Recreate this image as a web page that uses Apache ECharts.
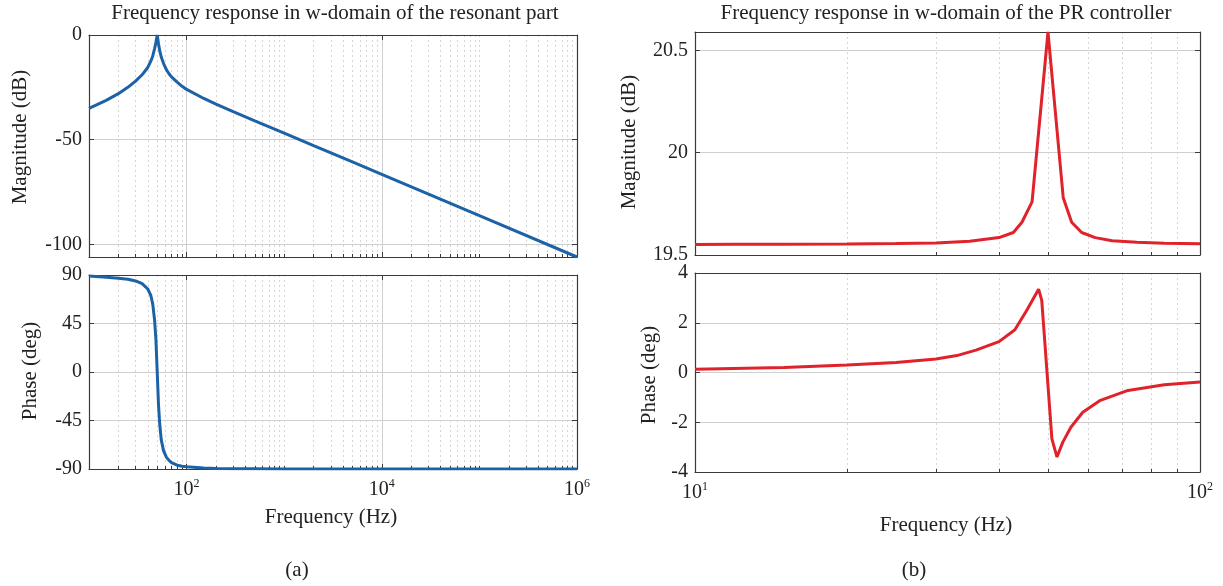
<!DOCTYPE html>
<html>
<head>
<meta charset="utf-8">
<title>Bode plots</title>
<script src="https://cdn.jsdelivr.net/npm/echarts@6/dist/echarts.min.js"></script>
<style>
  html, body { margin: 0; padding: 0; background: #fff; }
  #chart { width: 1223px; height: 586px; }
</style>
</head>
<body>
<div id="chart"></div>
<script>
// (a) resonant part
const resFreq = [10, 15, 20, 25, 30, 35, 40, 43, 45, 47, 48.5, 50, 51.5, 53, 55, 58, 62, 66, 70, 80, 90, 100, 150, 200, 300, 500, 1000, 2000, 5000, 1e4, 1e5, 1e6];
const resMag = [-35, -31.2, -28, -25, -22, -19, -15.5, -12.5, -10, -6.5, -3.5, 0, -4, -7.5, -10.5, -13.5, -16.5, -18.5, -20, -22.5, -24.5, -26, -30.3, -33, -36.6, -41, -46.8, -52.8, -60.6, -66.5, -86.3, -106];
const resPhase = [89, 88, 87, 86, 84.5, 82, 77, 71, 63, 48, 30, 0, -30, -48, -63, -73, -79, -82, -84, -86.5, -87.5, -88, -89, -89.5, -89.7, -89.8, -90, -90, -90, -90, -90, -90];

// (b) PR controller
const prMagFreq = [10, 12, 15, 20, 25, 30, 35, 40, 42.7, 44.4, 46.5, 50, 53.6, 55.7, 58.3, 62, 67, 75, 85, 100];
const prMag = [19.551, 19.552, 19.552, 19.554, 19.556, 19.559, 19.567, 19.585, 19.61, 19.66, 19.76, 20.59, 19.78, 19.66, 19.61, 19.585, 19.57, 19.562, 19.557, 19.555];
const prPhaseFreq = [10, 15, 20, 25, 30, 33, 36, 40, 43, 45.4, 47.9, 48.6, 50.9, 52.1, 53.5, 55.5, 58.6, 63.5, 72, 85, 100];
const prPhase = [0.13, 0.2, 0.3, 0.4, 0.54, 0.68, 0.9, 1.24, 1.72, 2.5, 3.35, 2.9, -2.67, -3.4, -2.8, -2.2, -1.6, -1.12, -0.72, -0.49, -0.38];

// tick labels
const resXTicks = [100, 1e4, 1e6];
const prXTicks = [10, 100];
const resMagTicks = [-100, -50, 0];
const resPhaseTicks = [-90, -45, 0, 45, 90];
const prMagTicks = [19.5, 20, 20.5];
const prPhaseTicks = [-4, -2, 0, 2, 4];

// dotted minor grid of the log axes (every 1..9 x decade that is not a labelled tick)
function minorGrid (lo, hi, major) {
    let out = [];
    for (let d = lo; d < hi; d *= 10) {
        for (let k = 1; k < 10; k++) {
            let v = d * k;
            if (v > lo && v < hi && major.indexOf(v) < 0) out.push(v);
        }
    }
    return out;
}

const serif = 'Liberation Serif';
const ink = '#222';
const frame = '#3a3a3a';
const tickFont = 20;
const textFont = 21;

function expLabel (v) {
    return '{b|10}{s|' + Math.round(Math.log10(v)) + '}';
}

function xAxes (grid, min, max, major, showLabels) {
    let minor = minorGrid(min, max, major);
    return [
        {
            type: 'log', gridIndex: grid, min: min, max: max, position: 'bottom',
            axisLine: { show: false, onZero: false },
            axisLabel: { show: false },
            axisTick: { show: true, inside: true, length: 3, customValues: minor, lineStyle: { color: frame } },
            splitLine: { show: true, lineStyle: { color: '#d6d6d6', type: [2, 3] } }
        },
        {
            type: 'log', gridIndex: grid, min: min, max: max, position: 'bottom',
            axisLine: { show: true, onZero: false, lineStyle: { color: frame, width: 1.2 } },
            axisTick: { show: true, inside: true, length: 5, customValues: major, lineStyle: { color: frame } },
            axisLabel: {
                show: showLabels,
                customValues: major,
                margin: 9,
                formatter: expLabel,
                rich: {
                    b: { fontFamily: serif, fontSize: tickFont, color: ink, lineHeight: 24 },
                    s: { fontFamily: serif, fontSize: 12, color: ink, verticalAlign: 'top', lineHeight: 14 }
                }
            },
            splitLine: { show: true, lineStyle: { color: '#cfcfcf' } }
        },
        {
            type: 'log', gridIndex: grid, min: min, max: max, position: 'top',
            axisLine: { show: true, onZero: false, lineStyle: { color: frame, width: 1.2 } },
            axisTick: { show: true, inside: true, length: 5, customValues: major, lineStyle: { color: frame } },
            axisLabel: { show: false },
            splitLine: { show: false }
        }
    ];
}

function yAxes (grid, min, max, ticks) {
    return [
        {
            type: 'value', gridIndex: grid, min: min, max: max, position: 'left',
            axisLine: { show: true, onZero: false, lineStyle: { color: frame, width: 1.2 } },
            axisTick: { show: true, inside: true, length: 5, customValues: ticks, lineStyle: { color: frame } },
            axisLabel: {
                customValues: ticks, margin: 7,
                fontFamily: serif, fontSize: tickFont, color: ink,
                formatter: function (v) { return String(v); }
            },
            splitLine: { show: true, lineStyle: { color: '#cfcfcf' } }
        },
        {
            type: 'value', gridIndex: grid, min: min, max: max, position: 'right',
            axisLine: { show: true, onZero: false, lineStyle: { color: frame, width: 1.2 } },
            axisTick: { show: true, inside: true, length: 5, customValues: ticks, lineStyle: { color: frame } },
            axisLabel: { show: false },
            splitLine: { show: false }
        }
    ];
}

function pairs (xs, ys) {
    return xs.map(function (x, i) { return [x, ys[i]]; });
}

function curve (panel, xs, ys, color) {
    return {
        type: 'line',
        xAxisIndex: panel * 3 + 1,
        yAxisIndex: panel * 2,
        data: pairs(xs, ys),
        showSymbol: false,
        smooth: false,
        lineStyle: { color: color, width: 3 },
        z: 5
    };
}

function label (str, x, y, vertical) {
    return {
        type: 'text', x: x, y: y,
        rotation: vertical ? Math.PI / 2 : 0,
        style: {
            text: str, fill: ink,
            fontFamily: serif, fontSize: textFont,
            align: 'center', verticalAlign: 'middle'
        }
    };
}

const blue = '#1c62a6';
const red = '#e0222a';

let chart = echarts.init(document.getElementById('chart'));
chart.setOption({
    animation: false,
    backgroundColor: '#fff',
    grid: [
        { left: 89, top: 35, width: 488, height: 222 },
        { left: 89, top: 275, width: 488, height: 194 },
        { left: 695, top: 32, width: 505, height: 223 },
        { left: 695, top: 273, width: 505, height: 199 }
    ],
    xAxis: [].concat(
        xAxes(0, 10, 1e6, resXTicks, false),
        xAxes(1, 10, 1e6, resXTicks, true),
        xAxes(2, 10, 100, prXTicks, false),
        xAxes(3, 10, 100, prXTicks, true)
    ),
    yAxis: [].concat(
        yAxes(0, -106, 0, resMagTicks),
        yAxes(1, -90, 90, resPhaseTicks),
        yAxes(2, 19.5, 20.59, prMagTicks),
        yAxes(3, -4, 4, prPhaseTicks)
    ),
    series: [
        curve(0, resFreq, resMag, blue),
        curve(1, resFreq, resPhase, blue),
        curve(2, prMagFreq, prMag, red),
        curve(3, prPhaseFreq, prPhase, red)
    ],
    graphic: [
        label('Frequency response in w-domain of the resonant part', 335, 13, false),
        label('Frequency response in w-domain of the PR controller', 946, 13, false),
        label('Magnitude (dB)', 20, 137, true),
        label('Phase (deg)', 30, 371, true),
        label('Magnitude (dB)', 629, 142, true),
        label('Phase (deg)', 649, 375, true),
        label('Frequency (Hz)', 331, 517, false),
        label('Frequency (Hz)', 946, 525, false),
        label('(a)', 297, 570, false),
        label('(b)', 914, 570, false)
    ]
});
window.addEventListener('resize', function () {
    chart.resize();
});
</script>
</body>
</html>
